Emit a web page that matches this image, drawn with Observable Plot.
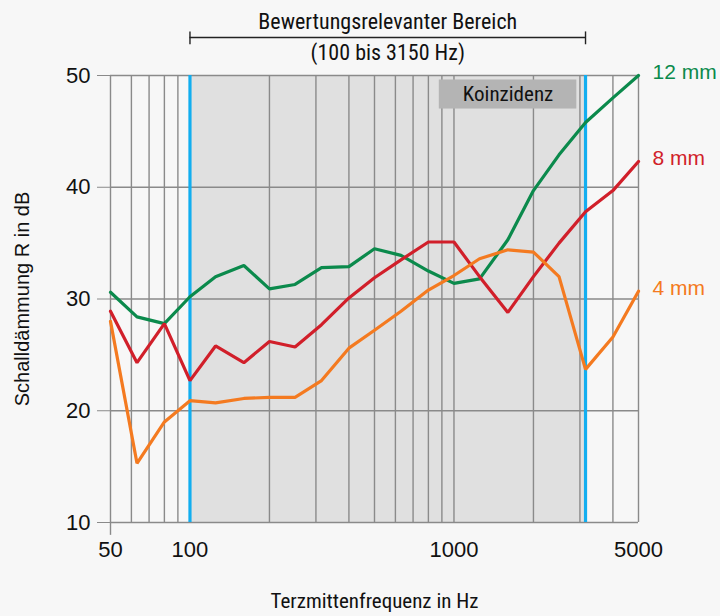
<!DOCTYPE html>
<html><head><meta charset="utf-8">
<script src="https://cdn.jsdelivr.net/npm/d3@7"></script>
<script src="https://cdn.jsdelivr.net/npm/@observablehq/plot@0.6"></script>
<style>
html,body{margin:0;padding:0;background:#f7f7f7;}
#chart{width:720px;height:616px;}
</style>
</head><body><div id="chart"></div>
<script>
const freqs = [50,63,80,100,125,160,200,250,315,400,500,630,800,1000,1250,1600,2000,2500,3150,4000,5000];
const r12 = [30.6,28.4,27.8,30.2,32.0,33.0,30.9,31.3,32.8,32.9,34.5,33.9,32.5,31.4,31.8,35.3,39.7,42.9,45.8,48.0,50.0];
const r8  = [28.9,24.3,27.8,22.7,25.8,24.3,26.2,25.7,27.7,30.1,31.9,33.5,35.1,35.1,32.0,28.8,32.0,35.0,37.8,39.7,42.3];
const r4  = [28.0,15.3,19.0,20.9,20.7,21.1,21.2,21.2,22.7,25.6,27.2,28.9,30.8,32.1,33.6,34.4,34.2,32.0,23.7,26.6,30.7];
const seriesNames = ["12 mm","8 mm","4 mm"];
const seriesColors = ["#0b8a4c","#d11f2a","#f47a20"];
const gridFreqs = [50,60,70,80,90,100,200,300,400,500,600,700,800,900,1000,2000,3000,4000,5000];
const yTicks = [10,20,30,40,50];
const xTickLabels = [50,100,1000,5000];
const rangeBounds = [100,3150];

const seriesVals = [r12, r8, r4];
const data = seriesNames.flatMap((s,i) => freqs.map((f,j) => ({series:s, f, r:seriesVals[i][j]})));
const lastPts = seriesNames.map((s,i) => ({series:s, f:freqs[freqs.length-1], r:seriesVals[i][freqs.length-1]}));

const narrow = "'Liberation Sans Narrow','Roboto Condensed','DejaVu Sans Condensed',sans-serif";
const regular = "'Liberation Sans',Arial,sans-serif";

const chart = Plot.plot({
  width: 720, height: 616,
  marginLeft: 110, marginRight: 82, marginTop: 75, marginBottom: 94,
  style: {background:"#f7f7f7", fontFamily: regular, fontSize: "22px", color:"#111"},
  x: {type:"log", domain:[50,5000], axis: null},
  y: {domain:[10,50], axis: null},
  color: {domain: seriesNames, range: seriesColors},
  marks: [
    Plot.rect([rangeBounds], {x1: d=>d[0], x2: d=>d[1], y1: 10, y2: 50, fill:"#e0e0e0"}),
    Plot.ruleX(gridFreqs, {y1:10, y2:50, stroke:"#8a8a8a", strokeWidth:1.4}),
    Plot.ruleY(yTicks, {x1:50, x2:5000, stroke:"#8a8a8a", strokeWidth:1.4}),
    Plot.ruleX([50], {y1:10, y2:8.85, stroke:"#8a8a8a", strokeWidth:1.4}),
    Plot.ruleX(rangeBounds, {y1:10, y2:50, stroke:"#12aef0", strokeWidth:3.2}),
    // Koinzidenz box
    Plot.rect([0], {x1: 880, x2: 2920, y1: 47.0, y2: 49.6, fill:"#b4b4b4"}),
    Plot.text(["Koinzidenz"], {x: Math.sqrt(880*2920), y: 48.3, fontSize: 21, fill:"#111", fontFamily: narrow}),
    Plot.line(data, {x:"f", y:"r", stroke:"series", strokeWidth:3.2, strokeLinejoin:"miter"}),
    Plot.text(lastPts, {x:"f", y:"r", text:"series", fill:"series", dx:14, dy:-3, textAnchor:"start", fontSize:21, fontFamily: regular}),
    // bracket
    Plot.ruleY([53.4], {x1: rangeBounds[0], x2: rangeBounds[1], stroke:"#222", strokeWidth:1.4}),
    Plot.ruleX(rangeBounds, {y1: 52.75, y2: 53.9, stroke:"#222", strokeWidth:1.4}),
    Plot.text(["Bewertungsrelevanter Bereich"], {x: Math.sqrt(rangeBounds[0]*rangeBounds[1]), y: 54.75, fontSize:22, fill:"#111", fontFamily: narrow}),
    Plot.text(["(100 bis 3150 Hz)"], {x: Math.sqrt(rangeBounds[0]*rangeBounds[1]), y: 52.05, fontSize:22, fill:"#111", fontFamily: narrow}),
    Plot.axisY(yTicks, {tickSize:13, tickPadding:7, stroke:"#8a8a8a", fontSize:22, label:null, tickFormat: d=>String(d), fontFamily: regular}),
    Plot.text(xTickLabels, {x: d=>d, frameAnchor:"bottom", dy: 34, text: d=>String(d), fontSize:22, fill:"#111", fontFamily: regular}),
    Plot.text(["Terzmittenfrequenz in Hz"], {frameAnchor:"bottom", dy: 85, fontSize:21, fill:"#111", fontFamily: narrow}),
    Plot.text(["Schalldämmung R in dB"], {frameAnchor:"left", dx:-88, rotate:-90, textAnchor:"middle", fontSize:20, fill:"#111", fontFamily: regular})
  ]
});
document.getElementById("chart").appendChild(chart);
</script>
</body></html>
